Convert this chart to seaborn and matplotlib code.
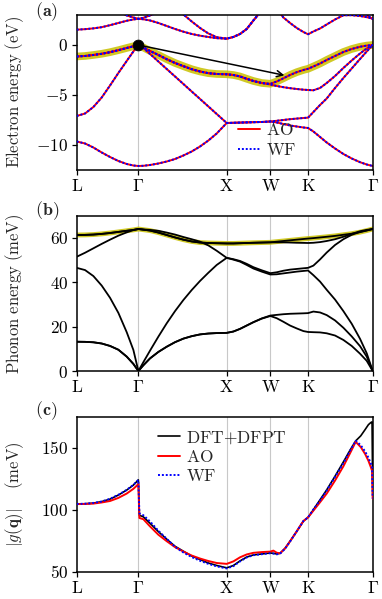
import numpy as np
import pandas as pd
import matplotlib
matplotlib.use("Agg")
import matplotlib.pyplot as plt
import seaborn as sns
from matplotlib.lines import Line2D

# ---------------- data ----------------
tick_pos = [0, 185, 450, 581, 694, 888]
tick_labels = [r"$\mathrm{L}$", r"$\Gamma$", r"$\mathrm{X}$", r"$\mathrm{W}$", r"$\mathrm{K}$", r"$\Gamma$"]

# k grid shared by panels (a) and (b)
k_path = [0, 25, 50, 75, 100, 125, 150, 170, 185,
          200, 220, 245, 270, 295, 320, 345, 370, 395, 420, 450,
          470, 490, 510, 530, 555, 581,
          600, 620, 640, 660, 680, 694,
          710, 730, 750, 775, 800, 825, 850, 870, 888]

# (a) electron bands (eV)
band1 = [-9.65, -9.85, -10.25, -10.75, -11.2, -11.6, -11.9, -12.05, -12.1,
         -12.08, -12.0, -11.85, -11.65, -11.4, -11.05, -10.65, -10.15, -9.55, -8.85, -7.8,
         -7.78, -7.76, -7.74, -7.72, -7.7, -7.65,
         -7.75, -7.9, -8.05, -8.15, -8.25, -8.3,
         -8.65, -9.2, -9.75, -10.35, -10.9, -11.35, -11.72, -11.95, -12.1]
band2 = [-7.1, -6.85, -6.2, -5.25, -4.05, -2.8, -1.6, -0.65, 0.0,
         -0.3, -0.9, -1.65, -2.4, -3.15, -3.9, -4.65, -5.4, -6.15, -6.9, -7.8,
         -7.78, -7.76, -7.74, -7.72, -7.7, -7.65,
         -7.58, -7.5, -7.42, -7.36, -7.3, -7.27,
         -6.7, -6.0, -5.35, -4.3, -3.3, -2.35, -1.4, -0.65, 0.0]
band3 = [-1.15, -1.1, -1.0, -0.88, -0.72, -0.52, -0.3, -0.13, 0.0,
         -0.25, -0.6, -1.0, -1.42, -1.8, -2.12, -2.42, -2.65, -2.82, -2.9, -2.93,
         -3.0, -3.15, -3.38, -3.6, -3.8, -3.95,
         -4.1, -4.22, -4.32, -4.4, -4.47, -4.5,
         -4.53, -4.3, -3.8, -3.1, -2.3, -1.55, -0.85, -0.35, 0.0]
band4 = [-1.15, -1.1, -1.0, -0.88, -0.72, -0.52, -0.3, -0.13, 0.0,
         -0.25, -0.6, -1.0, -1.42, -1.8, -2.12, -2.42, -2.65, -2.82, -2.9, -2.93,
         -3.0, -3.15, -3.38, -3.6, -3.8, -3.88,
         -3.65, -3.33, -3.0, -2.72, -2.5, -2.38,
         -2.15, -1.85, -1.5, -1.1, -0.7, -0.4, -0.18, -0.06, 0.0]
band5 = [1.53, 1.58, 1.66, 1.78, 1.98, 2.2, 2.42, 2.55, 2.62,
         2.57, 2.45, 2.2, 1.9, 1.6, 1.33, 1.1, 0.93, 0.8, 0.68, 0.63,
         0.8, 1.1, 1.6, 2.45, 3.45, 4.2,
         3.6, 2.75, 2.2, 1.7, 1.3, 1.07,
         1.35, 1.65, 2.05, 2.55, 2.97, 2.98, 2.9, 2.78, 2.63]
band6 = [5.0, 4.8, 4.5, 4.2, 3.8, 3.35, 2.95, 2.75, 2.62,
         2.72, 2.95, 3.3, 3.6, 3.5, 3.05, 2.35, 1.7, 1.15, 0.78, 0.63,
         0.8, 1.1, 1.6, 2.45, 3.45, 4.2,
         4.6, 4.5, 4.4, 4.3, 4.2, 4.1,
         4.3, 4.4, 4.5, 4.5, 4.4, 4.1, 3.6, 3.0, 2.6]
electron_bands = [band1, band2, band3, band4, band5, band6]
highlight_band = band4
vbm_point = (185, 0.0)
arrow_end = (623, -3.03)

# (b) phonon branches (meV)
ph_ta1 = [13.2, 13.15, 12.95, 12.4, 11.3, 9.6, 6.5, 3.2, 0.0,
          2.6, 5.7, 8.6, 10.95, 13.0, 14.6, 15.7, 16.5, 16.9, 17.1, 17.2,
          17.8, 19.0, 20.5, 22.0, 23.6, 24.8,
          23.8, 22.2, 20.5, 19.2, 18.0, 17.6,
          17.5, 17.4, 17.0, 16.0, 14.0, 11.3, 7.8, 4.6, 0.0]
ph_ta2 = [13.2, 13.15, 12.95, 12.4, 11.3, 9.6, 6.5, 3.2, 0.0,
          2.6, 5.7, 8.6, 10.95, 13.0, 14.6, 15.7, 16.5, 16.9, 17.1, 17.2,
          17.8, 19.0, 20.5, 22.0, 23.7, 25.0,
          25.3, 25.6, 25.8, 25.9, 26.0, 26.1,
          26.8, 26.4, 25.2, 22.8, 19.5, 15.6, 11.2, 6.5, 0.0]
ph_la = [46.5, 45.5, 42.8, 38.5, 33.0, 26.2, 17.5, 9.5, 0.0,
         4.0, 9.2, 15.5, 21.5, 27.0, 32.0, 36.5, 40.6, 44.3, 47.8, 51.0,
         50.2, 49.3, 47.8, 46.2, 44.8, 43.5,
         43.6, 44.0, 44.4, 44.8, 45.1, 45.3,
         43.2, 40.3, 36.6, 32.2, 27.0, 21.3, 14.5, 8.0, 0.0]
ph_lo = [51.5, 53.3, 55.3, 57.3, 59.2, 61.0, 62.5, 63.5, 64.0,
         63.8, 63.6, 63.2, 62.4, 61.5, 60.4, 59.4, 58.3, 56.6, 54.2, 51.0,
         50.4, 49.6, 48.3, 46.8, 45.4, 44.1,
         44.5, 45.2, 45.7, 46.0, 46.3, 46.5,
         47.5, 50.3, 53.4, 56.8, 59.4, 61.4, 62.7, 63.4, 64.0]
ph_to1 = [61.3, 61.35, 61.5, 61.8, 62.2, 62.7, 63.2, 63.6, 64.0,
          63.7, 63.3, 62.4, 61.3, 60.2, 59.2, 58.4, 57.9, 57.7, 57.6, 57.5,
          57.5, 57.6, 57.7, 57.8, 57.9, 58.0,
          58.0, 58.0, 57.9, 57.8, 57.75, 57.7,
          57.8, 58.1, 58.6, 59.4, 60.5, 61.8, 63.0, 63.6, 64.0]
ph_to2 = [61.3, 61.35, 61.5, 61.8, 62.2, 62.7, 63.2, 63.6, 64.0,
          63.7, 63.3, 62.4, 61.3, 60.2, 59.2, 58.4, 57.9, 57.7, 57.6, 57.5,
          57.5, 57.6, 57.7, 57.8, 57.9, 58.0,
          58.3, 58.6, 58.9, 59.2, 59.5, 59.7,
          59.9, 60.2, 60.5, 60.9, 61.4, 61.9, 62.6, 63.3, 64.0]
phonon_branches = [ph_ta1, ph_ta2, ph_la, ph_lo, ph_to1, ph_to2]
highlight_branch = ph_to2

# (c) |g(q)| (meV)
k_g = [0, 25, 50, 75, 100, 125, 150, 170, 180, 185,
       188, 200, 220, 245, 270, 295, 320, 345, 370, 395, 420, 450,
       470, 490, 510, 530, 555, 581, 590, 600, 610, 625, 640, 660, 680, 694,
       710, 730, 750, 775, 800, 820, 837, 852, 865, 875, 882, 886, 888]
g_dft = [104.6, 104.8, 105.3, 106.5, 108.5, 111.8, 115.8, 119.8, 122.6, 124.0,
         95.5, 94.2, 89.0, 82.3, 76.2, 70.5, 66.5, 62.6, 59.8, 57.0, 55.0, 53.1,
         55.0, 58.7, 61.8, 63.5, 64.3, 65.1, 64.8, 64.3, 64.8, 68.8, 74.5, 82.5, 90.8, 93.8,
         100.0, 108.0, 116.0, 127.0, 138.5, 148.0, 155.5, 159.5, 164.5, 168.5, 170.2, 170.8, 111.0]
g_ao = [104.5, 104.6, 104.9, 105.8, 107.0, 109.5, 113.0, 116.8, 119.3, 120.8,
        93.3, 92.3, 86.5, 79.8, 74.6, 69.8, 66.2, 63.0, 60.6, 58.6, 57.0, 56.3,
        58.3, 61.6, 63.9, 65.2, 65.8, 66.2, 67.0, 65.3, 64.8, 68.8, 74.5, 82.5, 90.8, 93.8,
        99.2, 106.0, 113.0, 123.5, 135.0, 145.5, 154.7, 150.5, 145.0, 139.5, 134.5, 131.4, 109.0]
g_wf = [104.6, 104.8, 105.4, 106.6, 108.8, 112.0, 116.0, 120.0, 122.8, 124.0,
        97.0, 95.5, 90.5, 83.0, 76.5, 70.0, 65.5, 61.8, 58.8, 56.3, 54.3, 52.6,
        54.5, 58.3, 61.5, 63.3, 64.1, 64.9, 64.6, 64.0, 64.5, 68.5, 74.3, 82.5, 90.8, 93.8,
        100.2, 107.5, 115.5, 126.5, 137.5, 147.5, 155.5, 152.0, 147.0, 142.0, 137.5, 135.0, 109.0]

# ---------------- style ----------------
sns.set_theme(style="ticks")
plt.rcParams.update({
    "mathtext.fontset": "cm",
    "font.family": ["DejaVu Serif"],
    "axes.edgecolor": "black",
    "axes.linewidth": 1.0,
    "xtick.color": "black",
    "ytick.color": "black",
    "xtick.major.size": 3.5,
    "ytick.major.size": 3.5,
    "xtick.major.width": 0.9,
    "ytick.major.width": 0.9,
    "xtick.direction": "out",
    "ytick.direction": "out",
    "xtick.major.pad": 2.5,
    "ytick.major.pad": 2.5,
})
FS = 12.5
FS_LAB = 12
RED = "#ff0000"
BLUE = "#0000ff"
HL = "#c8c000"
DOT = (0, (1.0, 1.0))

fig = plt.figure(figsize=(3.82, 5.99), dpi=100)
axA = fig.add_axes([0.2008, 0.7162, 0.7749, 0.2588])
axB = fig.add_axes([0.2008, 0.3806, 0.7749, 0.2593])
axC = fig.add_axes([0.2008, 0.0456, 0.7749, 0.2588])


def setup(ax, ylim, yticks, ylabel, panel, label_y):
    ax.set_xlim(tick_pos[0], tick_pos[-1])
    ax.set_ylim(*ylim)
    ax.set_xticks(tick_pos)
    ax.set_xticklabels(tick_labels, fontsize=FS)
    ax.set_yticks(yticks)
    ax.set_yticklabels([rf"${v}$" if v >= 0 else rf"$-{abs(v)}$" for v in yticks], fontsize=FS)
    for xp in tick_pos[1:-1]:
        ax.axvline(xp, color="#c8c8c8", lw=0.8, zorder=0)
    ax.set_ylabel(ylabel, fontsize=FS_LAB)
    ax.yaxis.set_label_coords(-0.172, 0.5)
    ax.set_xlabel("")
    ax.text(-0.14, label_y, panel, transform=ax.transAxes, fontsize=FS + 0.5,
            va="center", ha="left")
    for s in ax.spines.values():
        s.set_color("black")
        s.set_linewidth(1.1)


# ---------------- (a) ----------------
sns.lineplot(x=k_path, y=highlight_band, ax=axA, estimator=None, sort=False,
             color=HL, lw=5.5, alpha=0.85, zorder=1)
for b in electron_bands:
    sns.lineplot(x=k_path, y=b, ax=axA, estimator=None, sort=False,
                 color=RED, lw=1.4, zorder=2)
    sns.lineplot(x=k_path, y=b, ax=axA, estimator=None, sort=False,
                 color=BLUE, lw=1.4, linestyle=DOT, zorder=3)
axA.annotate("", xy=arrow_end, xytext=vbm_point,
             arrowprops=dict(arrowstyle="->", color="black", lw=1.1,
                             shrinkA=0, shrinkB=0, mutation_scale=11), zorder=5)
sns.scatterplot(x=[vbm_point[0]], y=[vbm_point[1]], ax=axA, s=60, color="black",
                edgecolor="black", zorder=6, legend=False)
setup(axA, (-12.5, 3), [-10, -5, 0], r"$\mathrm{Electron\ energy\ (eV)}$",
      r"$\mathbf{(a)}$", 1.022)
hA = [Line2D([], [], color=RED, lw=1.4), Line2D([], [], color=BLUE, lw=1.4, linestyle=DOT)]
axA.legend(hA, [r"$\mathrm{AO}$", r"$\mathrm{WF}$"], loc="lower left",
           bbox_to_anchor=(0.515, 0.015), frameon=False, fontsize=FS,
           handlelength=1.25, handletextpad=0.35, labelspacing=0.15, borderpad=0.0)

# ---------------- (b) ----------------
sns.lineplot(x=k_path, y=highlight_branch, ax=axB, estimator=None, sort=False,
             color=HL, lw=3.5, alpha=0.85, zorder=1)
for b in phonon_branches:
    sns.lineplot(x=k_path, y=b, ax=axB, estimator=None, sort=False,
                 color="black", lw=1.3, zorder=2)
setup(axB, (0, 70), [0, 20, 40, 60], r"$\mathrm{Phonon\ energy\ (meV)}$",
      r"$\mathbf{(b)}$", 1.03)

# ---------------- (c) ----------------
sns.lineplot(x=k_g, y=g_dft, ax=axC, estimator=None, sort=False,
             color="black", lw=1.2, zorder=2)
sns.lineplot(x=k_g, y=g_ao, ax=axC, estimator=None, sort=False,
             color=RED, lw=1.4, zorder=3)
sns.lineplot(x=k_g, y=g_wf, ax=axC, estimator=None, sort=False,
             color=BLUE, lw=1.4, linestyle=DOT, zorder=4)
setup(axC, (50, 175), [50, 100, 150], r"$|g(\mathbf{q})|\quad\ \mathrm{(meV)}$",
      r"$\mathbf{(c)}$", 1.04)
hC = [Line2D([], [], color="black", lw=1.2), Line2D([], [], color=RED, lw=1.4),
      Line2D([], [], color=BLUE, lw=1.4, linestyle=DOT)]
axC.legend(hC, [r"$\mathrm{DFT{+}DFPT}$", r"$\mathrm{AO}$", r"$\mathrm{WF}$"],
           loc="upper left", bbox_to_anchor=(0.245, 0.975), frameon=False, fontsize=FS,
           handlelength=1.25, handletextpad=0.35, labelspacing=0.15, borderpad=0.0)

fig.savefig("out.png", dpi=100)
